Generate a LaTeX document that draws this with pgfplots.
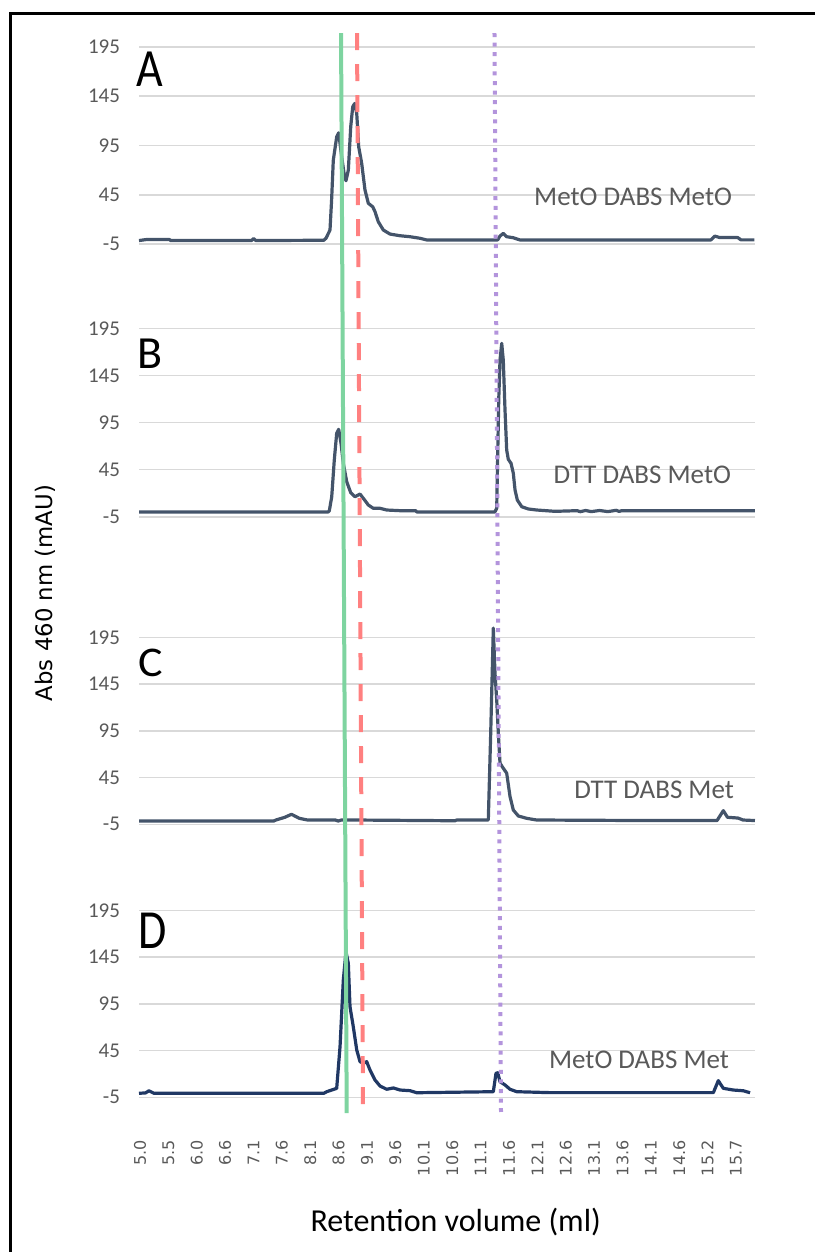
\documentclass[border=0pt]{standalone}
\usepackage{pgfplots}
\pgfplotsset{compat=1.18}
\usepackage{fontspec}
\setmainfont{Carlito}
\newfontfamily\dejavu{DejaVu Sans}

\definecolor{traceC}{HTML}{44546A}
\definecolor{traceD}{HTML}{203864}
\definecolor{ticktxt}{HTML}{595959}
\definecolor{gridc}{HTML}{D9D9D9}
\definecolor{mkgreen}{HTML}{7ED4A0}
\definecolor{mkred}{HTML}{FF8080}
\definecolor{mkpurple}{HTML}{B394DC}

% one chromatogram panel; 1 px of the reference = 0.5pt
\pgfplotsset{panel/.style={
    scale only axis, width=308pt, clip=false,
    xmin=4.982, xmax=16.041, ymin=-5, ymax=195,
    axis line style={draw=none}, major tick length=0pt,
    ytick={-5,45,95,145,195}, yticklabels={-5,45,95,145,195},
    yticklabel style={font=\fontsize{10.5}{12}\selectfont, text=ticktxt, xshift=-6pt},
    ymajorgrids, major grid style={gridc, line width=0.8pt},
    xtick=\empty,
  },
  tr/.style={traceC, line width=1.6pt, line join=round},
}
\tikzset{lbl/.style={anchor=east, text=ticktxt, font=\fontsize{13.5}{16}\selectfont}}

\begin{document}
\begin{tikzpicture}
\useasboundingbox (0pt,0pt) rectangle (407.5pt,-626pt);
\draw[line width=1.5pt] (5pt,-626pt) -- (5pt,-6.75pt) -- (407.5pt,-6.75pt);

% A
\begin{axis}[panel, anchor=south west, at={(69.5pt,-122pt)}, height=98.5pt]
\addplot[tr] coordinates {
(4.982,-1.5) (5.11,-0.5) (5.53,-0.5) (5.55,-1.5) (7.0,-1.5) (7.04,0.5) (7.08,-1.5)
(8.30,-1.2) (8.339,0.8) (8.411,9.2) (8.44,40) (8.470,80) (8.531,103.8) (8.567,107.9)
(8.621,83.5) (8.668,65) (8.698,59.2) (8.740,70) (8.783,114) (8.819,134.3) (8.855,137.7)
(8.891,127.5) (8.926,93.7) (8.980,76.8) (9.039,49.8) (9.099,36.3) (9.178,32.8)
(9.219,27.8) (9.278,17.6) (9.368,9.2) (9.488,5.1) (9.668,3.4) (9.847,2.4) (10.027,0.8)
(10.147,-0.9) (11.42,-0.9) (11.463,3.1) (11.522,5.8) (11.583,2.4) (11.697,1.4)
(11.822,-0.9) (15.25,-0.9) (15.32,3) (15.41,1.5) (15.73,1.5) (15.79,-0.8) (16.03,-0.8)
};
\node[lbl] at (axis cs:15.754,43) {MetO DABS MetO};
\coordinate (gT) at (axis cs:8.609,209.2);
\coordinate (rT) at (axis cs:8.896,209.2);
\coordinate (pT) at (axis cs:11.364,209.2);
\end{axis}

% B
\begin{axis}[panel, anchor=south west, at={(69.5pt,-258.35pt)}, height=94.2pt]
\addplot[tr] coordinates {
(4.982,0) (8.38,0) (8.399,1.4) (8.442,16.2) (8.488,55.2) (8.531,83.5) (8.567,87.8)
(8.609,72.9) (8.650,51.7) (8.711,32.2) (8.783,20.5) (8.860,16.2) (8.950,19.1)
(9.022,13.5) (9.099,7.4) (9.189,3.9) (9.309,3.9) (9.429,2.1) (9.668,1.4) (9.95,1.4)
(9.968,0) (11.37,0) (11.404,3.9) (11.440,118.9) (11.463,161.4) (11.494,179) (11.522,161)
(11.553,108) (11.583,65.8) (11.612,55.9) (11.661,51.7) (11.702,41.1) (11.733,23.3)
(11.774,12.7) (11.853,5.6) (11.971,3.2) (12.122,2.1) (12.451,0.7) (12.85,1.4) (12.9,0.3)
(13.0,1.6) (13.1,0.4) (13.25,1.6) (13.4,0.4) (13.55,1.8) (13.6,0.6) (13.65,1.4) (16.04,1.4)
};
\node[lbl] at (axis cs:15.736,39.3) {DTT DABS MetO};
\end{axis}

% C
\begin{axis}[panel, anchor=south west, at={(69.5pt,-412.15pt)}, height=93.5pt]
\addplot[tr] coordinates {
(4.982,-1.5) (7.40,-1.5) (7.44,-0.4) (7.60,2.5) (7.72,5.7) (7.86,1.4) (8.0,-0.3)
(8.50,-0.3) (8.56,-1.5) (8.62,-0.3) (10.655,-1.2) (10.686,-0.4) (11.253,-0.4)
(11.296,92.4) (11.343,204.9) (11.373,156.7) (11.404,128) (11.433,92.4) (11.463,60.3)
(11.522,55) (11.583,49.6) (11.643,24.6) (11.702,10.3) (11.792,3.9) (11.943,1.4)
(12.122,-0.4) (14.156,-1) (15.359,-1) (15.472,9.6) (15.547,2.5) (15.736,1.7)
(15.826,-0.4) (16.04,-1)
};
\node[lbl] at (axis cs:15.79,31.7) {DTT DABS Met};
\end{axis}

% D
\begin{axis}[panel, anchor=south west, at={(69.5pt,-548.65pt)}, height=93.5pt,
    xtick={5.0,5.5095,6.019,6.5285,7.038,7.5475,8.057,8.5665,9.076,9.5855,10.095,
           10.6045,11.114,11.6235,12.133,12.6425,13.152,13.6615,14.171,14.6805,15.19,15.6995},
    xticklabels={5.0,5.5,6.0,6.6,7.1,7.6,8.1,8.6,9.1,9.6,10.1,10.6,11.1,11.6,12.1,12.6,
                 13.1,13.6,14.1,14.6,15.2,15.7},
    xticklabel style={rotate=90, anchor=east, text=ticktxt, font=\dejavu\fontsize{8}{9}\selectfont},
    xticklabel shift=18pt]
\addplot[tr, traceD] coordinates {
(4.982,-0.7) (5.10,-0.3) (5.16,2) (5.25,-0.7) (8.30,-0.7) (8.352,1) (8.531,4.6)
(8.591,49.1) (8.650,120.5) (8.698,150.7) (8.740,138.3) (8.770,91.9) (8.829,70.5)
(8.891,45.6) (8.950,33.1) (9.009,31.4) (9.070,33.1) (9.129,24.2) (9.219,13.5)
(9.309,7.1) (9.429,3.6) (9.548,5) (9.668,2.8) (9.847,2.1) (9.968,-0.1) (11.343,1)
(11.391,20.7) (11.422,21.3) (11.463,11.7) (11.553,8.2) (11.643,3.6) (11.763,1)
(12.361,0) (15.293,0) (15.382,12.8) (15.472,4.6) (15.652,2.8) (15.831,2) (15.952,-0.1)
};
\node[lbl] at (axis cs:15.70,34.9) {MetO DABS Met};
\coordinate (gB) at (axis cs:8.711,-21.8);
\coordinate (rB) at (axis cs:9.004,-20.7);
\coordinate (pB) at (axis cs:11.481,-20.7);
\end{axis}

% reference lines across the four panels
\draw[mkgreen, line width=2pt] (gT) -- (gB);
\draw[mkred, line width=2pt, dash pattern=on 8.5pt off 7pt] (rT) -- (rB);
\draw[mkpurple, line width=2pt, dash pattern=on 2pt off 2.8pt] (pT) -- (pB);

% panel letters and axis titles
\begin{scope}[every node/.style={anchor=base west, inner sep=0pt, font=\fontsize{23}{26}\selectfont}]
\node[yscale=1.17] at (68pt,-43.35pt) {A};
\node at (68.5pt,-184.15pt) {B};
\node[yscale=0.92] at (69pt,-338.35pt) {C};
\node[yscale=1.2] at (69pt,-474.15pt) {D};
\end{scope}
\node[anchor=base, rotate=90, inner sep=0pt, font=\dejavu\fontsize{11.4}{13}\selectfont] at (26pt,-296.5pt) {Abs 460 nm (mAU)};
\node[anchor=base, inner sep=0pt, font=\fontsize{16}{19}\selectfont] at (227.85pt,-615.85pt) {Retention volume (ml)};
\end{tikzpicture}
\end{document}
